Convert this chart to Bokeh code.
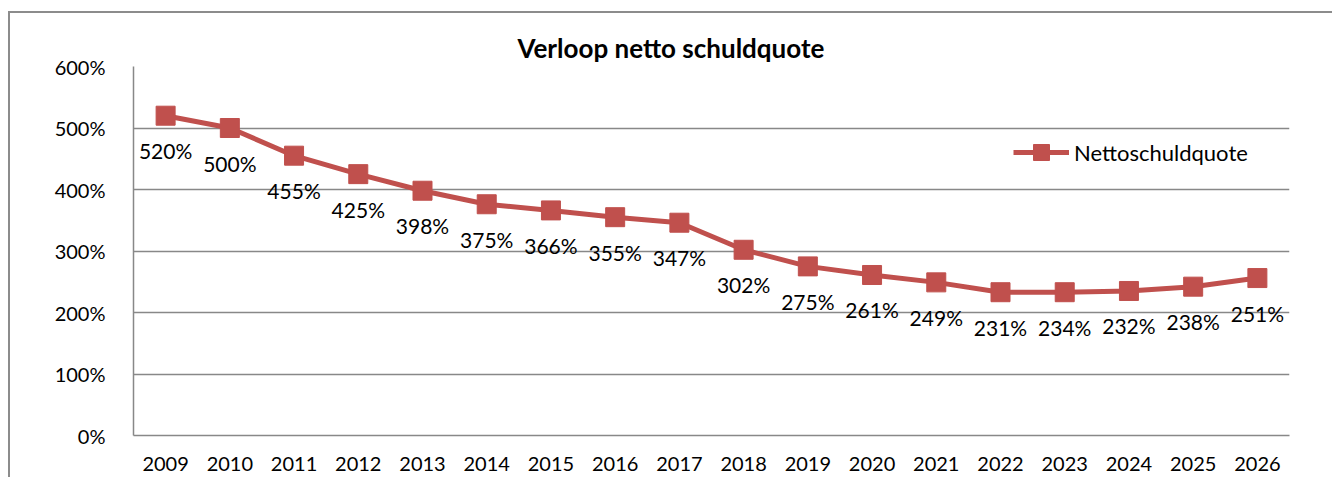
from bokeh.plotting import figure
from bokeh.models import (FactorRange, Range1d, PrintfTickFormatter, SingleIntervalTicker,
                          Legend, LegendItem, ColumnDataSource)
from bokeh.embed import file_html
from bokeh.resources import INLINE
from bokeh.core.properties import value

# ---- data ----
years = ["2009", "2010", "2011", "2012", "2013", "2014", "2015", "2016", "2017",
         "2018", "2019", "2020", "2021", "2022", "2023", "2024", "2025", "2026"]
values = [520, 500, 455, 425, 398, 376, 366, 355, 346,
          302, 275, 261, 249, 233, 233, 235, 242, 256]
labels = ["520%", "500%", "455%", "425%", "398%", "375%", "366%", "355%", "347%",
          "302%", "275%", "261%", "249%", "231%", "234%", "232%", "238%", "251%"]
series_name = "Nettoschuldquote"
title_text = "Verloop netto schuldquote"

FONT = "Lato"
RED = "#c0504d"
GRAY = "#888888"
BORDER = "#8c8c8c"

source = ColumnDataSource(dict(year=years, value=values, label=labels))

p = figure(width=1332, height=477, x_range=FactorRange(*years), y_range=Range1d(0, 600),
           output_backend="svg", toolbar_location=None,
           min_border_left=133, min_border_right=43, min_border_top=66, min_border_bottom=42)
p.outline_line_color = None
p.background_fill_color = "white"
p.border_fill_alpha = 0
p.styles = {
    "background": (f"linear-gradient({BORDER}, {BORDER}) 8px 11px / 2px calc(100% - 11px) no-repeat, "
                   f"linear-gradient({BORDER}, {BORDER}) 8px 11px / calc(100% - 8px) 2px no-repeat, "
                   "#ffffff")
}

# title
p.title.text = title_text
p.title.align = "left"
p.title.offset = 384
p.title.standoff = 6
p.title.text_font = FONT
p.title.text_font_style = "bold"
p.title.text_font_size = "26px"
p.title.text_color = "#000000"

# axes
p.yaxis.ticker = SingleIntervalTicker(interval=100)
p.yaxis.formatter = PrintfTickFormatter(format="%d%%")
for ax in (p.xaxis, p.yaxis):
    ax.axis_line_color = GRAY
    ax.axis_line_width = 1.5
    ax.major_tick_line_color = None
    ax.minor_tick_line_color = None
    ax.major_tick_out = 0
    ax.major_tick_in = 0
    ax.major_label_text_font = FONT
    ax.major_label_text_font_size = "20px"
    ax.major_label_text_color = "#000000"
p.yaxis.major_label_standoff = 24
p.xaxis.major_label_standoff = 21

p.xgrid.grid_line_color = None
p.ygrid.grid_line_color = GRAY
p.ygrid.grid_line_width = 1.5

line_r = p.line(x="year", y="value", source=source, line_color=RED, line_width=5)
sc_r = p.scatter(x="year", y="value", source=source, marker="square", size=19,
                 fill_color=RED, line_color=RED)
p.text(x="year", y="value", text="label", source=source, text_align="center",
       text_baseline="middle", y_offset=35, text_font=value(FONT),
       text_font_size="21px", text_color="#000000")

legend = Legend(items=[LegendItem(label=series_name, renderers=[line_r, sc_r])],
                location=(880, 263), glyph_width=56, glyph_height=40,
                label_standoff=5, padding=0, margin=0, spacing=0,
                border_line_color=None, background_fill_alpha=0,
                label_text_font=FONT, label_text_font_size="22px",
                label_text_color="#000000")
p.add_layout(legend)

open("out.html", "w").write(file_html(p, INLINE))
